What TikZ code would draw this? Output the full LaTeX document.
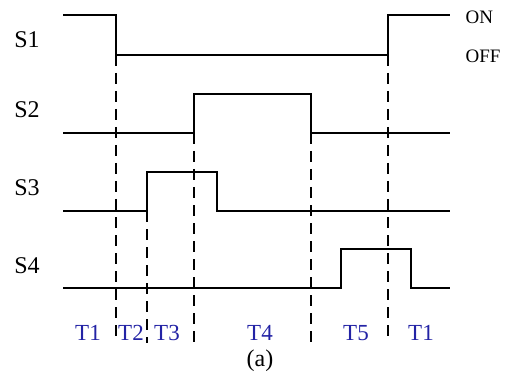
\documentclass[tikz,border=0pt]{standalone}
\usepackage{fontspec}
\setmainfont{Liberation Serif}
\usetikzlibrary{positioning}

\begin{document}
\begin{tikzpicture}[x=1pt, y=-1pt,
    wave/.style={line width=1.8pt, line join=miter},
    guide/.style={line width=1.3pt, dash pattern=on 11pt off 7pt},
    signame/.style={font=\fontsize{24}{24}\selectfont},
    level/.style={font=\fontsize{19}{19}\selectfont, anchor=west},
    phase/.style={text=phaseblue, font=\fontsize{23}{23}\selectfont}]
        \definecolor{phaseblue}{RGB}{35, 35, 165}
        \useasboundingbox (0,0) rectangle (505,379);

        % switching instants
        \coordinate (t2) at (116, 343);
        \coordinate (t3) at (147, 343);
        \coordinate (t4) at (194, 343);
        \coordinate (t5) at (311, 343);
        \coordinate (t6) at (388, 343);

        % S1
        \coordinate (s1fall) at (116, 55);
        \coordinate (s1rise) at (388, 55);
        \draw[wave] (63, 15) -- (116, 15) -- (s1fall) -- (s1rise) -- (388, 15) -- (450, 15);
        % S2
        \coordinate (s2rise) at (194, 133);
        \coordinate (s2fall) at (311, 133);
        \draw[wave] (63, 133) -- (s2rise) -- (194, 94) -- (311, 94) -- (s2fall) -- (450, 133);
        % S3
        \coordinate (s3rise) at (147, 211);
        \draw[wave] (63, 211) -- (s3rise) -- (147, 172) -- (217, 172) -- (217, 211) -- (450, 211);
        % S4
        \draw[wave] (63, 288) -- (341, 288) -- (341, 249) -- (411, 249) -- (411, 288) -- (450, 288);

        \draw[guide] (s1fall) -- (t2);
        \draw[guide] (s3rise) -- (t3);
        \draw[guide] (s2rise) -- (t4);
        \draw[guide] (s2fall) -- (t5);
        \draw[guide] (s1rise) -- (t6);

        \node[signame] (s1) at (27, 40){S1};
        \node[signame] (s2) at (27, 110){S2};
        \node[signame] (s3) at (27, 188){S3};
        \node[signame] (s4) at (27, 266){S4};
        \node[level] (on) at (462, 17){ON};
        \node[level] (off) at (462, 56){OFF};

        \node[phase] (p1) at (88, 333){T1};
        \node[phase] (p2) at (131, 333){T2};
        \node[phase] (p3) at (167, 333){T3};
        \node[phase] (p4) at (260, 333){T4};
        \node[phase] (p5) at (356, 333){T5};
        \node[phase] (p6) at (421, 333){T1};
        \node[signame] (cap) at (260, 361){(a)};
    \end{tikzpicture}
\end{document}
